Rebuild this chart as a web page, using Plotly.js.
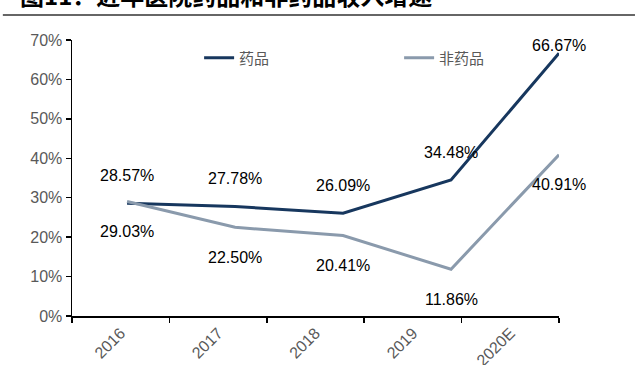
<!DOCTYPE html>
<html><head><meta charset="utf-8">
<script src="https://cdn.plot.ly/plotly-3.0.1.min.js"></script>
<style>body{margin:0;background:#fff}#c{width:640px;height:365px}</style>
</head><body><div id="c"></div>
<script>
const categories = ['2016','2017','2018','2019','2020E'];
const drugValues = [28.57, 27.78, 26.09, 34.48, 66.67];
const nonDrugValues = [29.03, 22.50, 20.41, 11.86, 40.91];
const seriesNames = ['药品','非药品'];
const yTickVals = [0,10,20,30,40,50,60,70];
const yTickText = yTickVals.map(v => v + '%');

const drugColor = '#17375E';
const nonDrugColor = '#8A9AAC';
const idx = categories.map((c, i) => i);

const traces = [
  // invisible trace to establish the category axis with ticks
  {x: categories, y: categories.map(() => null), xaxis: 'x', yaxis: 'y', type: 'scatter', mode: 'lines',
   showlegend: false, hoverinfo: 'skip'},
  {x: categories, y: drugValues, name: seriesNames[0], xaxis: 'x2', yaxis: 'y', type: 'scatter', mode: 'lines',
   line: {color: drugColor, width: 3}, cliponaxis: false},
  {x: categories, y: nonDrugValues, name: seriesNames[1], xaxis: 'x2', yaxis: 'y', type: 'scatter', mode: 'lines',
   line: {color: nonDrugColor, width: 3}, cliponaxis: false}
];

const annotations = [];
const lblFont = {family: 'Liberation Sans, Arial', size: 16, color: '#000'};
idx.forEach(i => {
  const last = i === categories.length - 1;
  annotations.push({x: i, y: drugValues[i], xref: 'x2', yref: 'y', text: drugValues[i].toFixed(2) + '%',
    showarrow: false, font: lblFont, yshift: last ? 8 : 28, xshift: 0, yanchor: 'middle'});
  annotations.push({x: i, y: nonDrugValues[i], xref: 'x2', yref: 'y', text: nonDrugValues[i].toFixed(2) + '%',
    showarrow: false, font: lblFont, yshift: -30, xshift: 0, yanchor: 'middle'});
});
annotations.push({xref: 'paper', yref: 'paper', x: -0.111, y: 1.094, xanchor: 'left', yanchor: 'bottom',
  text: '<b>图11：近年医院药品和非药品收入增速</b>', showarrow: false,
  font: {family: 'Noto Sans CJK SC', size: 24, color: '#000'}});

const layout = {
  width: 640, height: 365,
  margin: {l: 72, r: 81, t: 40, b: 49},
  paper_bgcolor: '#fff', plot_bgcolor: '#fff',
  showlegend: true,
  legend: {orientation: 'h', x: 0.261, y: 0.935, xanchor: 'left', yanchor: 'middle',
    font: {family: 'Noto Sans CJK SC', size: 15, color: '#595959'},
    entrywidth: 155, entrywidthmode: 'pixels', bgcolor: 'rgba(0,0,0,0)'},
  xaxis: {type: 'category', categoryarray: categories, range: [-0.5, 4.5], showline: true, linecolor: '#000', linewidth: 1.5,
    ticks: 'outside', tickson: 'boundaries', ticklen: 5, tickcolor: '#000', tickwidth: 1.5,
    tickangle: -45, showgrid: false, zeroline: false,
    tickfont: {family: 'Liberation Sans, Arial', size: 16, color: '#595959'}},
  xaxis2: {type: 'category', categoryarray: categories, overlaying: 'x', range: [-0.51, 4.0],
    visible: false, showgrid: false, zeroline: false},
  yaxis: {range: [0, 70], tickvals: yTickVals, ticktext: yTickText, showline: true, linecolor: '#000', linewidth: 1.5,
    ticks: 'outside', ticklen: 5, tickcolor: '#000', tickwidth: 1.5, showgrid: false, zeroline: false,
    tickfont: {family: 'Liberation Sans, Arial', size: 16, color: '#595959'}},
  annotations: annotations,
  shapes: [{type: 'line', xref: 'paper', yref: 'paper', x0: -0.142, x1: 1.156, y0: 1.0906, y1: 1.0906,
    line: {color: '#666', width: 2}}]
};
Plotly.newPlot('c', traces, layout, {displayModeBar: false, staticPlot: true});
</script></body></html>
